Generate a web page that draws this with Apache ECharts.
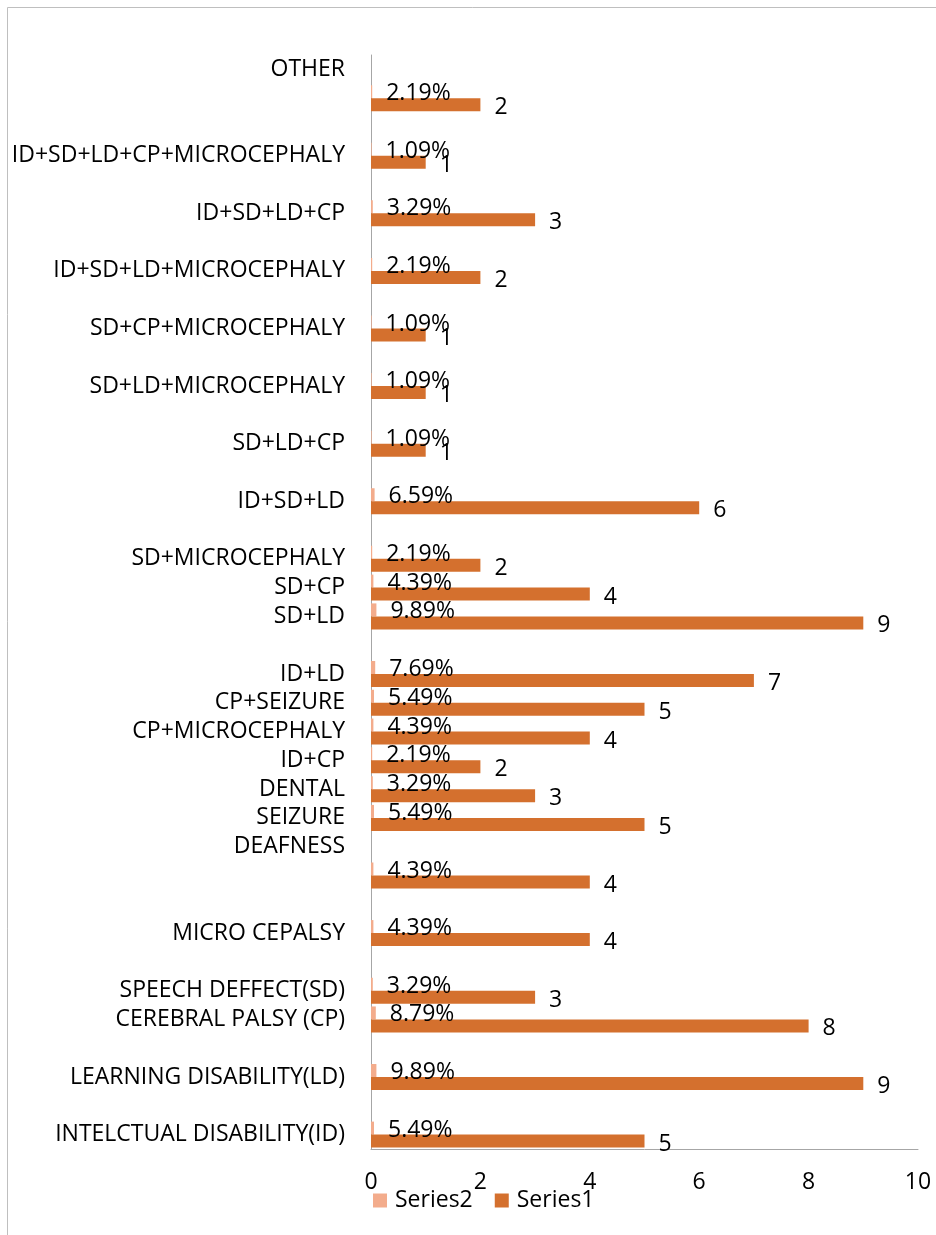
<!DOCTYPE html>
<html>
<head>
<meta charset="utf-8">
<script src="https://cdn.jsdelivr.net/npm/echarts@6/dist/echarts.min.js"></script>
<style>html,body{margin:0;padding:0;background:#fff}#c{width:936px;height:1235px}</style>
</head>
<body>
<div id="c"></div>
<script>
// categories from bottom to top ('' = empty row)
const categories = [
  'INTELCTUAL DISABILITY(ID)', '', 'LEARNING DISABILITY(LD)', '', 'CEREBRAL PALSY (CP)',
  'SPEECH DEFFECT(SD)', '', 'MICRO CEPALSY', '', '', 'DEAFNESS', 'SEIZURE', 'DENTAL',
  'ID+CP', 'CP+MICROCEPHALY', 'CP+SEIZURE', 'ID+LD', '', 'SD+LD', 'SD+CP', 'SD+MICROCEPHALY',
  '', 'ID+SD+LD', '', 'SD+LD+CP', '', 'SD+LD+MICROCEPHALY', '', 'SD+CP+MICROCEPHALY', '',
  'ID+SD+LD+MICROCEPHALY', '', 'ID+SD+LD+CP', '', 'ID+SD+LD+CP+MICROCEPHALY', '', '', 'OTHER'
];
const series1 = [5, null, 9, null, 8, 3, null, 4, null, 4, null, 5, 3, 2, 4, 5, 7, null, 9, 4, 2,
  null, 6, null, 1, null, 1, null, 1, null, 2, null, 3, null, 1, null, 2, null];
const series2 = [0.0549, null, 0.0989, null, 0.0879, 0.0329, null, 0.0439, null, 0.0439, null,
  0.0549, 0.0329, 0.0219, 0.0439, 0.0549, 0.0769, null, 0.0989, 0.0439, 0.0219, null, 0.0659,
  null, 0.0109, null, 0.0109, null, 0.0109, null, 0.0219, null, 0.0329, null, 0.0109, null, 0.0219, null];
const xTicks = [0, 2, 4, 6, 8, 10];

const FONT = "'Open Sans', sans-serif";
const FS = 23;
const chart = echarts.init(document.getElementById('c'), null, {renderer: 'canvas'});
chart.setOption({
  animation: false,
  textStyle: {fontFamily: FONT},
  graphic: [{type: 'rect', shape: {x: 7.5, y: 7.5, width: 1000, height: 1400},
    style: {fill: 'none', stroke: '#BFBFBF', lineWidth: 1}}],
  grid: {left: 371, right: 18, top: 55, bottom: 86, containLabel: false},
  legend: {
    data: ['Series2', 'Series1'], left: 373, top: 1189, padding: 0, itemWidth: 14, itemHeight: 14, itemGap: 22,
    icon: 'rect', textStyle: {fontFamily: FONT, fontSize: FS, color: '#000', padding: [0, 0, 0, 3]}
  },
  xAxis: {
    type: 'value', min: xTicks[0], max: xTicks[xTicks.length - 1], interval: 2,
    splitLine: {show: false}, axisTick: {show: false},
    axisLine: {show: true, lineStyle: {color: '#A6A6A6'}},
    axisLabel: {fontFamily: FONT, fontSize: FS, color: '#000', margin: 22}
  },
  yAxis: {
    type: 'category', data: categories,
    axisTick: {show: false}, axisLine: {lineStyle: {color: '#A6A6A6'}},
    axisLabel: {interval: 0, fontFamily: FONT, fontSize: FS, color: '#000', margin: 26}
  },
  series: [
    {name: 'Series2', type: 'bar', data: series2, barWidth: 13, barGap: '0%',
      itemStyle: {color: '#F3AC8C'},
      label: {show: true, position: 'right', distance: 14, fontFamily: FONT, fontSize: FS, color: '#000',
        offset: [0, 2], formatter: p => (p.value * 100).toFixed(2) + '%'}},
    {name: 'Series1', type: 'bar', data: series1, barWidth: 13, barGap: '0%',
      itemStyle: {color: '#D4702E'},
      label: {show: true, position: 'right', distance: 14, fontFamily: FONT, fontSize: FS, color: '#000', offset: [0, 3]}}
  ]
});
</script>
</body>
</html>
